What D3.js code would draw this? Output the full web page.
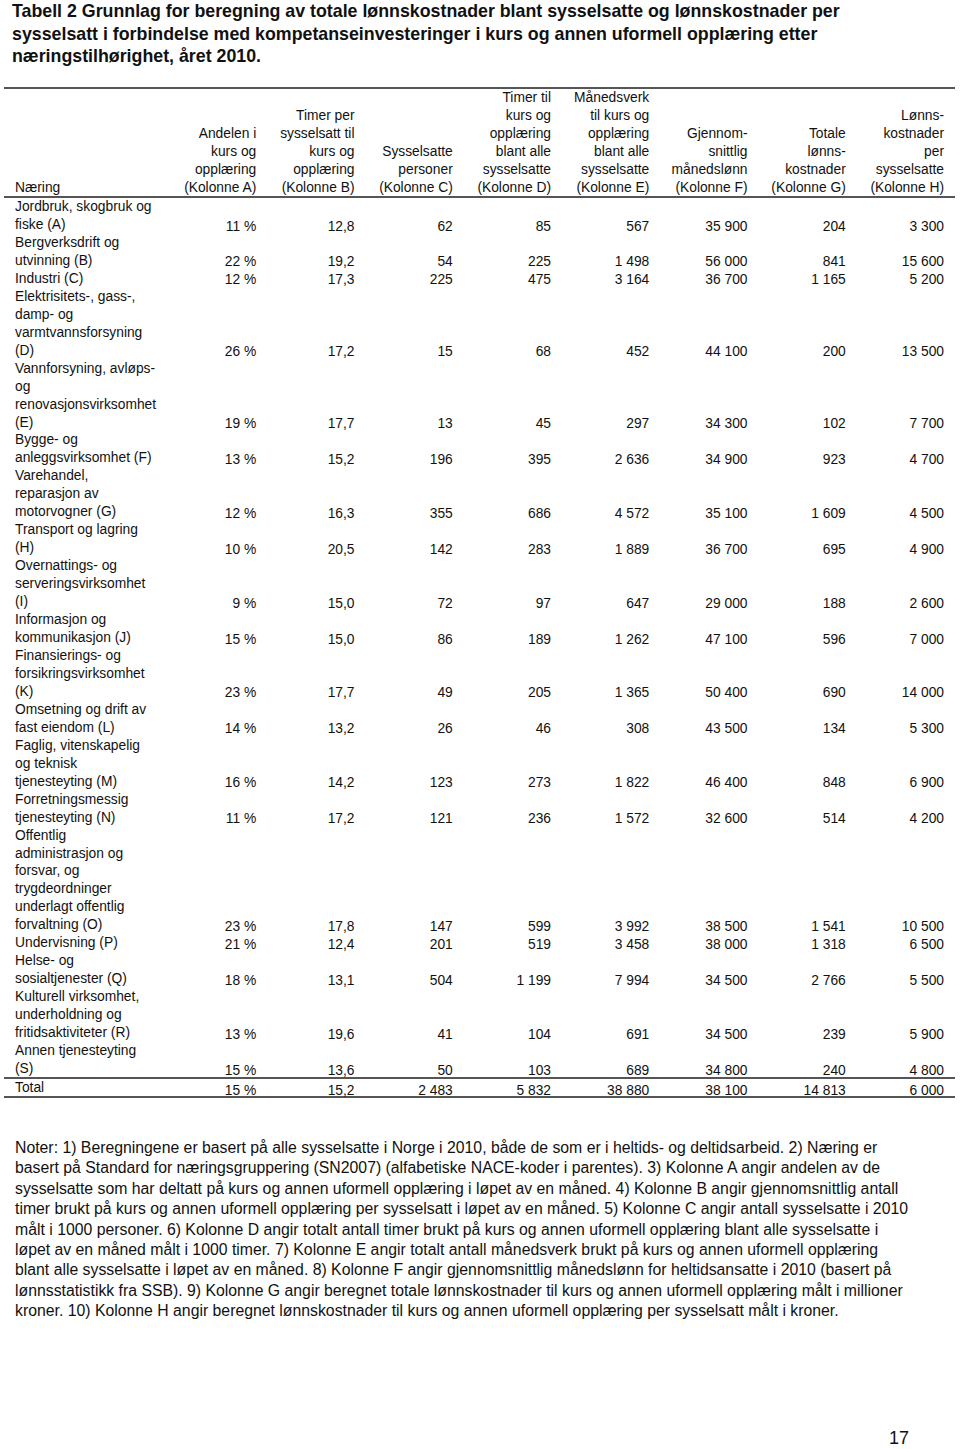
<!DOCTYPE html>
<html>
<head>
<meta charset="utf-8">
<script src="https://cdn.jsdelivr.net/npm/d3@7"></script>
<style>
  body { margin: 0; background: #fff; }
  svg text { font-family: "Liberation Sans", Arial, sans-serif; fill: #111; }
</style>
</head>
<body>
<div id="tabell"></div>
<script>
// tittel og kolonneoverskrifter
const tittel = [
    "Tabell 2 Grunnlag for beregning av totale lønnskostnader blant sysselsatte og lønnskostnader per",
    "sysselsatt i forbindelse med kompetanseinvesteringer i kurs og annen uformell opplæring etter",
    "næringstilhørighet, året 2010."
];
const kolonner = ["A", "B", "C", "D", "E", "F", "G", "H"];
const overskrifter = [
    ["Andelen i", "kurs og", "opplæring", "(Kolonne A)"],
    ["Timer per", "sysselsatt til", "kurs og", "opplæring", "(Kolonne B)"],
    ["Sysselsatte", "personer", "(Kolonne C)"],
    ["Timer til", "kurs og", "opplæring", "blant alle", "sysselsatte", "(Kolonne D)"],
    ["Månedsverk", "til kurs og", "opplæring", "blant alle", "sysselsatte", "(Kolonne E)"],
    ["Gjennom-", "snittlig", "månedslønn", "(Kolonne F)"],
    ["Totale", "lønns-", "kostnader", "(Kolonne G)"],
    ["Lønns-", "kostnader", "per", "sysselsatte", "(Kolonne H)"]
];

// næringer (linjeskift som i originalen)
const naering = [
    ["Jordbruk, skogbruk og", "fiske (A)"],
    ["Bergverksdrift og", "utvinning (B)"],
    ["Industri (C)"],
    ["Elektrisitets-, gass-,", "damp- og", "varmtvannsforsyning", "(D)"],
    ["Vannforsyning, avløps-", "og", "renovasjonsvirksomhet", "(E)"],
    ["Bygge- og", "anleggsvirksomhet (F)"],
    ["Varehandel,", "reparasjon av", "motorvogner (G)"],
    ["Transport og lagring", "(H)"],
    ["Overnattings- og", "serveringsvirksomhet", "(I)"],
    ["Informasjon og", "kommunikasjon (J)"],
    ["Finansierings- og", "forsikringsvirksomhet", "(K)"],
    ["Omsetning og drift av", "fast eiendom (L)"],
    ["Faglig, vitenskapelig", "og teknisk", "tjenesteyting (M)"],
    ["Forretningsmessig", "tjenesteyting (N)"],
    ["Offentlig", "administrasjon og", "forsvar, og", "trygdeordninger", "underlagt offentlig", "forvaltning (O)"],
    ["Undervisning (P)"],
    ["Helse- og", "sosialtjenester (Q)"],
    ["Kulturell virksomhet,", "underholdning og", "fritidsaktiviteter (R)"],
    ["Annen tjenesteyting", "(S)"]
];
const kolA = [11, 22, 12, 26, 19, 13, 12, 10, 9, 15, 23, 14, 16, 11, 23, 21, 18, 13, 15];
const kolB = [12.8, 19.2, 17.3, 17.2, 17.7, 15.2, 16.3, 20.5, 15.0, 15.0, 17.7, 13.2, 14.2, 17.2, 17.8, 12.4, 13.1, 19.6, 13.6];
const kolC = [62, 54, 225, 15, 13, 196, 355, 142, 72, 86, 49, 26, 123, 121, 147, 201, 504, 41, 50];
const kolD = [85, 225, 475, 68, 45, 395, 686, 283, 97, 189, 205, 46, 273, 236, 599, 519, 1199, 104, 103];
const kolE = [567, 1498, 3164, 452, 297, 2636, 4572, 1889, 647, 1262, 1365, 308, 1822, 1572, 3992, 3458, 7994, 691, 689];
const kolF = [35900, 56000, 36700, 44100, 34300, 34900, 35100, 36700, 29000, 47100, 50400, 43500, 46400, 32600, 38500, 38000, 34500, 34500, 34800];
const kolG = [204, 841, 1165, 200, 102, 923, 1609, 695, 188, 596, 690, 134, 848, 514, 1541, 1318, 2766, 239, 240];
const kolH = [3300, 15600, 5200, 13500, 7700, 4700, 4500, 4900, 2600, 7000, 14000, 5300, 6900, 4200, 10500, 6500, 5500, 5900, 4800];
const totalRad = [15, 15.2, 2483, 5832, 38880, 38100, 14813, 6000];

const noter = [
    "Noter: 1) Beregningene er basert på alle sysselsatte i Norge i 2010, både de som er i heltids- og deltidsarbeid. 2) Næring er",
    "basert på Standard for næringsgruppering (SN2007) (alfabetiske NACE-koder i parentes). 3) Kolonne A angir andelen av de",
    "sysselsatte som har deltatt på kurs og annen uformell opplæring i løpet av en måned. 4) Kolonne B angir gjennomsnittlig antall",
    "timer brukt på kurs og annen uformell opplæring per sysselsatt i løpet av en måned. 5) Kolonne C angir antall sysselsatte i 2010",
    "målt i 1000 personer. 6) Kolonne D angir totalt antall timer brukt på kurs og annen uformell opplæring blant alle sysselsatte i",
    "løpet av en måned målt i 1000 timer. 7) Kolonne E angir totalt antall månedsverk brukt på kurs og annen uformell opplæring",
    "blant alle sysselsatte i løpet av en måned. 8) Kolonne F angir gjennomsnittlig månedslønn for heltidsansatte i 2010 (basert på",
    "lønnsstatistikk fra SSB). 9) Kolonne G angir beregnet totale lønnskostnader til kurs og annen uformell opplæring målt i millioner",
    "kroner. 10) Kolonne H angir beregnet lønnskostnader til kurs og annen uformell opplæring per sysselsatt målt i kroner."
];
const sidetall = "17";

const width = 960;
const height = 1449;

// norsk tallformat: mellomrom som tusenskille, komma som desimaltegn
const nb = d3.formatLocale({decimal: ",", thousands: " ", grouping: [3], currency: ["", " kr"]});
const heltall = nb.format(",d");
const desimal = nb.format(",.1f");
const formater = [
    (v) => v + " %",
    desimal, heltall, heltall, heltall, heltall, heltall, heltall
];

const svg = d3.select("#tabell")
    .append("svg")
    .attr("width", width)
    .attr("height", height);

// tittel
svg.append("g").selectAll("text")
    .data(tittel)
    .enter()
    .append("text")
    .attr("x", 12)
    .attr("y", (d, i) => 17 + i * 22.6)
    .style("font-size", "17.8px")
    .style("font-weight", "bold")
    .text((d) => d);

// kolonneskala (høyrekant av hver kolonne)
const xScale = d3.scaleBand()
    .domain(kolonner)
    .range([158, 944]);
const hoyrekant = (k) => xScale(k) + xScale.bandwidth();

// linjeskalaer for overskrift og innhold
const yHode = d3.scaleLinear().domain([0, 5]).range([97, 187]);
const antallLinjer = d3.sum(naering, (d) => d.length);
const yKropp = d3.scaleLinear().domain([0, antallLinjer - 1]).range([206, 1068]);
const midt = 5; // fra linjemidte til grunnlinje
const tekstStr = "13.8px";

// linjer
const streker = [88, 197, 1078, 1097];
svg.append("g").selectAll("line")
    .data(streker)
    .enter()
    .append("line")
    .attr("x1", 4)
    .attr("x2", 955)
    .attr("y1", (d) => d)
    .attr("y2", (d) => d)
    .attr("stroke", "#555")
    .attr("stroke-width", 2);

// overskrifter
const hode = svg.append("g").style("font-size", tekstStr);
hode.append("text")
    .attr("x", 15)
    .attr("y", yHode(5) + midt)
    .text("Næring");

kolonner.forEach((k, ci) => {
    const linjer = overskrifter[ci];
    hode.append("g").selectAll("text")
        .data(linjer)
        .enter()
        .append("text")
        .attr("x", hoyrekant(k))
        .attr("y", (d, i) => yHode(6 - linjer.length + i) + midt)
        .attr("text-anchor", "end")
        .text((d) => d);
});

// innhold
const verdier = [kolA, kolB, kolC, kolD, kolE, kolF, kolG, kolH];
const kropp = svg.append("g").style("font-size", tekstStr);
let linje = 0;
naering.forEach((navn, ri) => {
    const start = linje;
    kropp.append("g").selectAll("text")
        .data(navn)
        .enter()
        .append("text")
        .attr("x", 15)
        .attr("y", (d, i) => yKropp(start + i) + midt)
        .text((d) => d);
    linje += navn.length;
    const yVerdi = yKropp(linje - 1) + midt + 1.6;
    kolonner.forEach((k, ci) => {
        kropp.append("text")
            .attr("x", hoyrekant(k))
            .attr("y", yVerdi)
            .attr("text-anchor", "end")
            .text(formater[ci](verdier[ci][ri]));
    });
});

// totalrad
const yTotal = 1087;
kropp.append("text")
    .attr("x", 15)
    .attr("y", yTotal + midt)
    .text("Total");
kropp.append("g").selectAll("text")
    .data(totalRad)
    .enter()
    .append("text")
    .attr("x", (d, i) => hoyrekant(kolonner[i]))
    .attr("y", yTotal + 3 + midt)
    .attr("text-anchor", "end")
    .text((d, i) => formater[i](d));

// noter
svg.append("g").selectAll("text")
    .data(noter)
    .enter()
    .append("text")
    .attr("x", 15)
    .attr("y", (d, i) => 1153 + i * 20.4)
    .style("font-size", "15.8px")
    .text((d) => d);

// sidetall
svg.append("text")
    .attr("x", 909)
    .attr("y", 1444)
    .attr("text-anchor", "end")
    .style("font-size", "18px")
    .text(sidetall);
</script>
</body>
</html>
